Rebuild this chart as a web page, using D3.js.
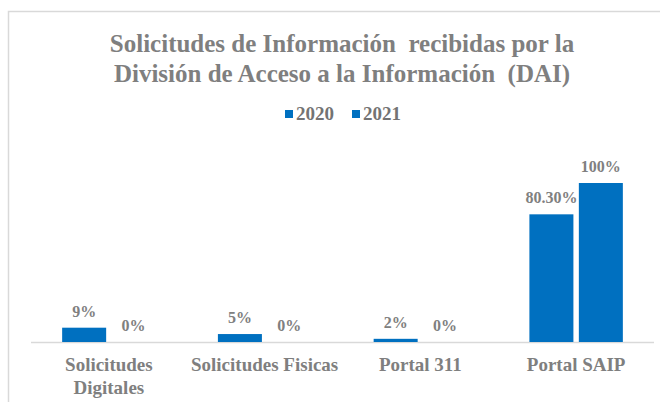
<!DOCTYPE html>
<meta charset="utf-8">
<style>
body { margin: 0; background: #fff; }
</style>
<body>
<script src="https://cdn.jsdelivr.net/npm/d3@7"></script>
<script>
var categories = [["Solicitudes", "Digitales"], ["Solicitudes Fisicas"], ["Portal 311"], ["Portal SAIP"]];
var series = ["2020", "2021"];
var values2020 = [9, 5, 2, 80.3];
var values2021 = [0, 0, 0, 100];
var labels2020 = ["9%", "5%", "2%", "80.30%"];
var labels2021 = ["0%", "0%", "0%", "100%"];

var width = 660, height = 402;
var svg = d3.select("body").append("svg")
    .attr("width", width)
    .attr("height", height)
    .style("display", "block");

function txt(sel, size, color) {
  return sel.attr("font-family", "Liberation Serif")
      .attr("font-weight", "bold")
      .attr("font-size", size)
      .attr("fill", color);
}

// frame of the chart area
svg.append("path")
    .attr("d", "M8.5," + height + "V11.5H" + width)
    .attr("fill", "none")
    .attr("stroke", "#d9d9d9")
    .attr("stroke-width", 1.5);

var titleLines = ["Solicitudes de Información  recibidas por la", "División de Acceso a la Información  (DAI)"];
titleLines.forEach(function(t, i) {
  txt(svg.append("text"), 25, "#7f7f7f")
      .attr("x", 342).attr("y", 52 + i * 30)
      .attr("text-anchor", "middle")
      .style("white-space", "pre")
      .text(t);
});

var colors = d3.scaleOrdinal().domain(series).range(["#0070c0", "#0070c0"]);

var legend = svg.append("g");
var legX = [285, 352];
series.forEach(function(s, i) {
  legend.append("rect").attr("x", legX[i]).attr("y", 110).attr("width", 8).attr("height", 8)
      .attr("fill", colors(s));
  txt(legend.append("text"), 19, "#737373")
      .attr("x", legX[i] + 11).attr("y", 120).text(s);
});

var x = d3.scaleBand().domain(d3.range(categories.length)).range([31, 654]).paddingInner(0.4).paddingOuter(0.2);
var xs = d3.scaleBand().domain(series).range([0, x.bandwidth()]).paddingInner(0.11);
var y = d3.scaleLinear().domain([0, 100]).range([342, 183]);

svg.append("line")
    .attr("x1", 31).attr("x2", 654)
    .attr("y1", 342.5).attr("y2", 342.5)
    .attr("stroke", "#d9d9d9").attr("stroke-width", 1.5);

var data = [values2020, values2021];
var labs = [labels2020, labels2021];
series.forEach(function(s, si) {
  var g = svg.append("g");
  g.selectAll("rect").data(data[si]).enter().append("rect")
      .attr("x", function(d, i) { return x(i) + xs(s); })
      .attr("y", function(d) { return y(d); })
      .attr("width", xs.bandwidth())
      .attr("height", function(d) { return y(0) - y(d); })
      .attr("fill", colors(s));
  txt(g.selectAll("text").data(data[si]).enter().append("text"), 16, "#808080")
      .attr("x", function(d, i) { return x(i) + xs(s) + xs.bandwidth() / 2; })
      .attr("y", function(d) { return y(d) - 11; })
      .attr("text-anchor", "middle")
      .text(function(d, i) { return labs[si][i]; });
});

categories.forEach(function(c, i) {
  var cx = x(i) + x.bandwidth() / 2;
  var t = txt(svg.append("text"), 19, "#7f7f7f")
      .attr("x", cx).attr("y", 371)
      .attr("text-anchor", "middle");
  c.forEach(function(line, li) {
    t.append("tspan").attr("x", cx).attr("dy", li ? 23 : 0).text(line);
  });
});
</script>
